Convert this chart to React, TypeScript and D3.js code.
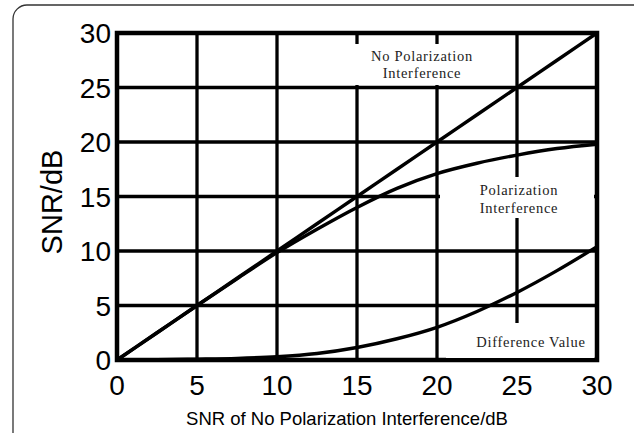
import { useRef, useEffect } from "react";
import * as d3 from "d3";

// x values (SNR without polarization interference, dB)
const snrInput = [0, 2.5, 5, 7.5, 10, 12.5, 15, 17.5, 20, 22.5, 25, 27.5, 30];
// no polarization interference: output equals input
const noPolarization = [0, 2.5, 5, 7.5, 10, 12.5, 15, 17.5, 20, 22.5, 25, 27.5, 30];
const polarization = [0, 2.5, 5, 7.45, 9.85, 12.0, 14.0, 15.75, 17.1, 18.05, 18.8, 19.4, 19.8];
const difference = [0, 0.03, 0.08, 0.15, 0.3, 0.6, 1.15, 1.95, 3.0, 4.45, 6.2, 8.2, 10.4];
const tickValues = [0, 5, 10, 15, 20, 25, 30];

function App() {
  const svgRef = useRef(null);

  useEffect(() => {
    const svg = d3.select(svgRef.current);
    svg.selectAll("*").remove();

    const x = d3.scaleLinear().domain([0, 30]).range([117, 597]);
    const y = d3.scaleLinear().domain([0, 30]).range([360, 33]);

    // outer rounded frame (bottom edge runs off the picture)
    svg
      .append("rect")
      .attr("x", 13)
      .attr("y", 5)
      .attr("width", 640)
      .attr("height", 460)
      .attr("rx", 14)
      .attr("fill", "white")
      .attr("stroke", "#333")
      .attr("stroke-width", 1.3);

    // grid
    const grid = svg.append("g").attr("stroke", "black").attr("stroke-width", 3.3);
    tickValues.slice(1, -1).forEach((t) => {
      grid.append("line").attr("x1", x(t)).attr("x2", x(t)).attr("y1", y(0)).attr("y2", y(30));
      grid.append("line").attr("x1", x(0)).attr("x2", x(30)).attr("y1", y(t)).attr("y2", y(t));
    });

    svg
      .append("rect")
      .attr("x", x(0))
      .attr("y", y(30))
      .attr("width", x(30) - x(0))
      .attr("height", y(0) - y(30))
      .attr("fill", "none")
      .attr("stroke", "black")
      .attr("stroke-width", 4.5);

    // white boxes behind the curve labels break the grid
    const boxes = [
      [345, 44, 170, 41],
      [440, 177, 154, 41],
      [446, 323, 148, 35],
    ];
    boxes.forEach(([bx, by, bw, bh]) => {
      svg.append("rect").attr("x", bx).attr("y", by).attr("width", bw).attr("height", bh).attr("fill", "white");
    });

    // curves
    const line = (vals) =>
      d3
        .line()
        .x((d, i) => x(snrInput[i]))
        .y((d) => y(d))
        .curve(d3.curveMonotoneX)(vals);

    [noPolarization, polarization, difference].forEach((vals) => {
      svg
        .append("path")
        .attr("d", line(vals))
        .attr("fill", "none")
        .attr("stroke", "black")
        .attr("stroke-width", 3.4)
        .attr("stroke-linecap", "round");
    });

    // tick labels
    const sans = "'Liberation Sans', Arial, sans-serif";
    svg
      .append("g")
      .selectAll("text")
      .data(tickValues)
      .join("text")
      .attr("x", (d) => x(d))
      .attr("y", 395)
      .attr("text-anchor", "middle")
      .attr("font-family", sans)
      .attr("font-size", 28)
      .text((d) => d);

    svg
      .append("g")
      .selectAll("text")
      .data(tickValues)
      .join("text")
      .attr("x", 111)
      .attr("y", (d) => y(d) + 10)
      .attr("text-anchor", "end")
      .attr("font-family", sans)
      .attr("font-size", 28)
      .text((d) => d);

    // axis titles
    svg
      .append("text")
      .attr("x", 347)
      .attr("y", 425)
      .attr("text-anchor", "middle")
      .attr("font-family", sans)
      .attr("font-size", 18.5)
      .text("SNR of No Polarization Interference/dB");

    svg
      .append("text")
      .attr("transform", "translate(62,202) rotate(-90)")
      .attr("text-anchor", "middle")
      .attr("font-family", sans)
      .attr("font-size", 29)
      .text("SNR/dB");

    // curve labels
    const serif = "'Liberation Serif', 'Times New Roman', serif";
    const labels = [
      [422, 61, "No Polarization"],
      [422, 78, "Interference"],
      [519, 195, "Polarization"],
      [519, 213, "Interference"],
      [531, 347, "Difference Value"],
    ];
    labels.forEach(([lx, ly, txt]) => {
      svg
        .append("text")
        .attr("x", lx)
        .attr("y", ly)
        .attr("text-anchor", "middle")
        .attr("font-family", serif)
        .attr("font-size", 14.5)
        .attr("fill", "#222")
        .attr("letter-spacing", 0.7)
        .text(txt);
    });
  }, []);

  return (
    <svg
      ref={svgRef}
      width={634}
      height={433}
      style={{ position: "absolute", left: 0, top: 0, background: "white" }}
    ></svg>
  );
}

export default App;
